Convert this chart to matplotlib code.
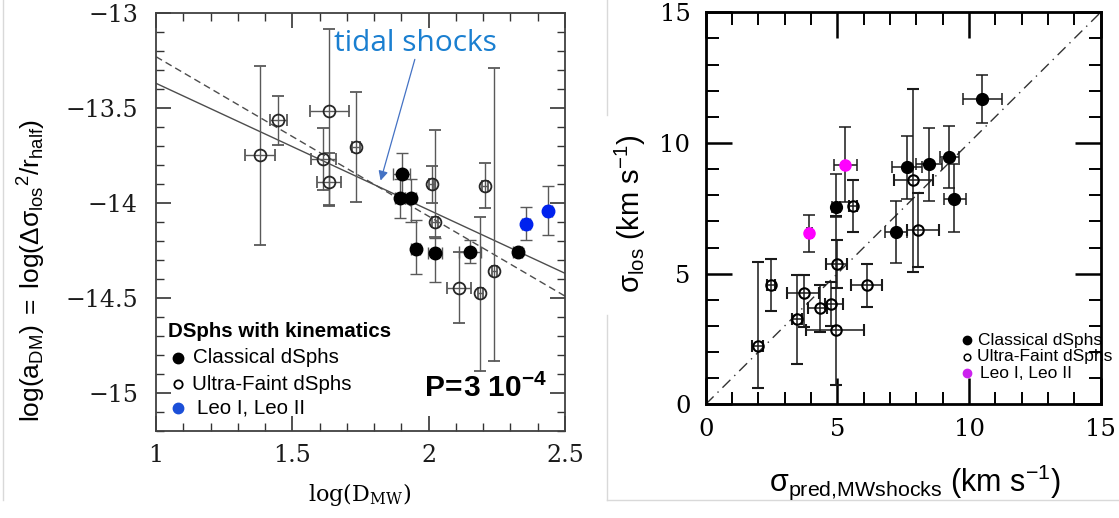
import matplotlib
matplotlib.use("Agg")
import matplotlib.pyplot as plt
from matplotlib.ticker import MultipleLocator
from matplotlib.lines import Line2D

plt.rcParams['mathtext.fontset'] = 'custom'
plt.rcParams['mathtext.rm'] = 'Liberation Sans'
plt.rcParams['mathtext.it'] = 'Liberation Sans:italic'
plt.rcParams['mathtext.bf'] = 'Liberation Sans:bold'

# ---------------- Left panel data: log(D_MW) vs log(a_DM) ----------------
cl_logd = [1.901, 1.895, 1.934, 1.952, 2.023, 2.151, 2.326]
cl_loga = [-13.847, -13.975, -13.975, -14.242, -14.265, -14.256, -14.256]
cl_loga_lo = [0.11, 0.105, 0.125, 0.13, 0.15, 0.06, 0.02]
cl_loga_hi = [0.11, 0.10, 0.10, 0.15, 0.08, 0.06, 0.02]
cl_logd_err = [0.03, 0.02, 0.02, 0.017, 0.026, 0.04, 0.015]

uf_logd = [1.381, 1.449, 1.636, 1.614, 1.636, 1.733, 2.011, 2.023, 2.206, 2.241, 2.112, 2.19]
uf_loga = [-13.747, -13.563, -13.516, -13.77, -13.888, -13.705, -13.9, -14.098, -13.909, -14.36, -14.449, -14.475]
uf_loga_lo = [0.473, 0.132, 0.50, 0.16, 0.12, 0.29, 0.098, 0.08, 0.118, 0.47, 0.18, 0.41]
uf_loga_hi = [0.467, 0.128, 0.43, 0.165, 0.15, 0.288, 0.095, 0.48, 0.12, 1.07, 0.19, 0.40]
uf_logd_err = [0.055, 0.03, 0.073, 0.045, 0.044, 0.015, 0.01, 0.01, 0.01, 0.01, 0.044, 0.01]

leo_logd = [2.357, 2.439]
leo_loga = [-14.11, -14.042]
leo_loga_lo = [0.085, 0.126]
leo_loga_hi = [0.09, 0.132]
leo_logd_err = [0.015, 0.012]

fit_x = [1.0, 2.5]
fit_solid = [-13.37, -14.37]
fit_dashed = [-13.23, -14.49]

# ---------------- Right panel data: sigma_pred vs sigma_los ----------------
cl_spred = [10.49, 9.25, 8.49, 7.66, 9.44, 7.23, 4.94]
cl_spred_lo = [0.73, 0.36, 0.5, 0.57, 0.39, 0.42, 0.15]
cl_spred_hi = [0.75, 0.36, 0.5, 0.57, 0.45, 0.40, 0.15]
cl_slos = [11.68, 9.48, 9.18, 9.07, 7.86, 6.58, 7.56]
cl_slos_lo = [0.90, 1.21, 1.40, 1.21, 1.28, 1.18, 0.38]
cl_slos_hi = [0.92, 1.18, 1.41, 1.20, 1.34, 1.21, 1.25]

uf_spred = [7.89, 8.05, 5.61, 4.97, 4.94, 2.47, 3.73, 4.34, 4.75, 3.46, 1.97, 6.11]
uf_spred_lo = [0.74, 0.42, 0.15, 0.39, 1.13, 0.15, 0.63, 0.44, 0.22, 0.2, 0.2, 0.59]
uf_spred_hi = [0.75, 0.82, 0.15, 0.39, 1.07, 0.15, 0.58, 0.28, 0.48, 0.2, 0.2, 0.60]
uf_slos = [8.58, 6.67, 7.59, 5.37, 2.84, 4.57, 4.25, 3.67, 3.84, 3.25, 2.24, 4.57]
uf_slos_lo = [3.51, 1.40, 1.01, 0.93, 2.10, 1.00, 1.28, 0.91, 0.85, 1.71, 1.63, 0.83]
uf_slos_hi = [3.48, 1.40, 0.99, 0.92, 4.36, 0.99, 0.70, 0.90, 0.85, 1.70, 3.22, 0.79]

leo_spred = [5.30, 3.94]
leo_spred_err = [0.43, 0.10]
leo_slos = [9.16, 6.54]
leo_slos_lo = [1.41, 0.70]
leo_slos_hi = [1.44, 0.70]

one_to_one = [0, 15]

# ---------------- Figure ----------------
fig = plt.figure(figsize=(11.19, 5.18), dpi=100)
W, H = 1119, 518

def ax_rect(x0, y0, x1, y1):
    return [x0 / W, 1 - y1 / H, (x1 - x0) / W, (y1 - y0) / H]

# ----- Left axes -----
axL = fig.add_axes(ax_rect(156, 13, 565, 431))
axL.set_xlim(1, 2.5)
axL.set_ylim(-15.2, -13)
axL.plot(fit_x, fit_solid, color='0.3', lw=1.0, zorder=1)
axL.plot(fit_x, fit_dashed, color='0.3', lw=1.0, ls=(0, (5, 3)), zorder=1)

ekw = dict(ecolor='0.35', elinewidth=1.0, capsize=4, capthick=1.0, ls='none', zorder=3)
axL.errorbar(uf_logd, uf_loga, yerr=[uf_loga_lo, uf_loga_hi], xerr=uf_logd_err,
             fmt='o', ms=8.5, mfc='none', mec='0.15', mew=1.3, **ekw)
axL.errorbar(cl_logd, cl_loga, yerr=[cl_loga_lo, cl_loga_hi], xerr=cl_logd_err,
             fmt='o', ms=9, mfc='black', mec='black', **ekw)
axL.errorbar(leo_logd, leo_loga, yerr=[leo_loga_lo, leo_loga_hi], xerr=leo_logd_err,
             fmt='o', ms=9, mfc='#0022ee', mec='#0022ee', **ekw)

axL.xaxis.set_major_locator(MultipleLocator(0.5))
axL.xaxis.set_minor_locator(MultipleLocator(0.1))
axL.yaxis.set_major_locator(MultipleLocator(0.5))
axL.yaxis.set_minor_locator(MultipleLocator(0.1))
axL.tick_params(which='both', direction='in', top=True, right=True, color='0.2')
axL.tick_params(which='major', length=11, width=1.2, pad=9, labelsize=17)
axL.tick_params(which='minor', length=6, width=1.0)
axL.tick_params(axis='y', which='major', pad=13)
axL.set_xticks([1, 1.5, 2, 2.5])
axL.set_xticklabels(['1', '1.5', '2', '2.5'])
axL.set_yticks([-13, -13.5, -14, -14.5, -15])
axL.set_yticklabels(['\u221213', '\u221213.5', '\u221214', '\u221214.5', '\u221215'])
for lab in axL.get_xticklabels() + axL.get_yticklabels():
    lab.set_family('DejaVu Serif')
    lab.set_color('0.1')
for s in axL.spines.values():
    s.set_linewidth(1.3)
    s.set_color('0.25')

# tidal shocks annotation
axL.annotate('', xy=(1.821, -13.896), xytext=(1.952, -13.23),
             arrowprops=dict(arrowstyle='-|>', color='#4472c4', lw=0.9,
                             mutation_scale=14), zorder=5)
axL.text(1.652, -13.162, 'tidal shocks', color='#1a7fd0', fontsize=21.5,
         family='Open Sans', va='center', ha='left')

# legend (left)
axL.text(0.029, 0.2375, 'DSphs with kinematics', transform=axL.transAxes,
         fontsize=14.8, fontweight='bold', family='Liberation Sans', va='center')
axL.plot([0.054], [0.175], 'o', ms=7.5, color='black', transform=axL.transAxes, clip_on=False)
axL.plot([0.054], [0.112], 'o', ms=6, mfc='none', mec='black', mew=1.3,
         transform=axL.transAxes, clip_on=False)
axL.plot([0.054], [0.055], 'o', ms=7.5, color='#1b4fd8', transform=axL.transAxes, clip_on=False)
axL.text(0.0905, 0.175, 'Classical dSphs', transform=axL.transAxes, fontsize=14.8,
         family='Liberation Sans', va='center')
axL.text(0.087, 0.112, 'Ultra-Faint dSphs', transform=axL.transAxes, fontsize=14.8,
         family='Liberation Sans', va='center')
axL.text(0.0995, 0.055, 'Leo I, Leo II', transform=axL.transAxes, fontsize=14.8,
         family='Liberation Sans', va='center')
axL.text(0.956, 0.103, r'$\mathbf{P\!=\!3\ 10^{-4}}$', transform=axL.transAxes,
         fontsize=21.5, ha='right', va='center')

fig.text(32 / W, 1 - 270 / H,
         r'$\mathrm{log(a_{DM})}\;=\;\mathrm{log(\Delta\sigma_{los}{}^{2}/r_{half})}$',
         rotation=90, ha='center', va='center', fontsize=19)
fig.text(360 / W, 1 - 495 / H, r'log(D$_{\mathrm{MW}}$)', ha='center', va='center',
         fontsize=16, family='DejaVu Serif', math_fontfamily='dejavuserif')

# ----- Right axes -----
axR = fig.add_axes(ax_rect(705.7, 12.3, 1100.7, 404.3))
axR.set_xlim(0, 15)
axR.set_ylim(0, 15)
axR.plot(one_to_one, one_to_one, color='0.2', lw=1.0, ls=(0, (8, 4, 1, 4)), zorder=1)
ekwR = dict(ecolor='0.1', elinewidth=1.1, capsize=4, capthick=1.1, ls='none', zorder=3)
axR.errorbar(uf_spred, uf_slos, yerr=[uf_slos_lo, uf_slos_hi], xerr=[uf_spred_lo, uf_spred_hi],
             fmt='o', ms=7.5, mfc='none', mec='black', mew=1.5, **ekwR)
axR.errorbar(cl_spred, cl_slos, yerr=[cl_slos_lo, cl_slos_hi], xerr=[cl_spred_lo, cl_spred_hi],
             fmt='o', ms=8.5, mfc='black', mec='black', **ekwR)
axR.errorbar(leo_spred, leo_slos, yerr=[leo_slos_lo, leo_slos_hi], xerr=leo_spred_err,
             fmt='o', ms=8, mfc='#ff00ff', mec='#ff00ff', **ekwR)

axR.xaxis.set_major_locator(MultipleLocator(5))
axR.xaxis.set_minor_locator(MultipleLocator(1))
axR.yaxis.set_major_locator(MultipleLocator(5))
axR.yaxis.set_minor_locator(MultipleLocator(1))
axR.tick_params(which='both', direction='in', top=True, right=True, color='black')
axR.tick_params(which='major', length=19, width=1.8, labelsize=17.5)
axR.tick_params(which='minor', length=9, width=1.4)
axR.tick_params(axis='x', which='major', pad=10)
axR.tick_params(axis='y', which='major', pad=11)
for lab in axR.get_xticklabels() + axR.get_yticklabels():
    lab.set_family('DejaVu Serif')
for s in axR.spines.values():
    s.set_linewidth(2.0)

axR.plot([0.661], [0.164], 'o', ms=6, color='black', transform=axR.transAxes, clip_on=False)
axR.plot([0.661], [0.121], 'o', ms=4.8, mfc='none', mec='black', mew=1.1,
         transform=axR.transAxes, clip_on=False)
axR.plot([0.661], [0.079], 'o', ms=6, color='#cc22ee', transform=axR.transAxes, clip_on=False)
axR.text(0.69, 0.164, 'Classical dSphs', transform=axR.transAxes, fontsize=12.5,
         family='Liberation Sans', va='center')
axR.text(0.688, 0.121, 'Ultra-Faint dSphs', transform=axR.transAxes, fontsize=12.5,
         family='Liberation Sans', va='center')
axR.text(0.694, 0.079, 'Leo I, Leo II', transform=axR.transAxes, fontsize=12.5,
         family='Liberation Sans', va='center')

fig.text(630 / W, 1 - 214 / H, r'$\mathrm{\sigma_{los}}$ (km s$^{\mathrm{-1}}$)', rotation=90,
         ha='center', va='center', fontsize=21, family='Liberation Sans')
fig.text(915 / W, 1 - 482 / H,
         r'$\mathrm{\sigma_{pred{,}MWshocks}}$ (km s$^{\mathrm{-1}}$)',
         ha='center', va='center', fontsize=22, family='Liberation Sans')

# faint panel borders from the composite image
fig.add_artist(Line2D([3 / W, 3 / W], [1 - 500 / H, 1], color='0.85', lw=1.0))
fig.add_artist(Line2D([607 / W, 607 / W], [1 - 115 / H, 1], color='0.85', lw=1.0))
fig.add_artist(Line2D([607 / W, 607 / W], [1 - 500 / H, 1 - 315 / H], color='0.85', lw=1.0))
fig.add_artist(Line2D([607 / W, 1], [1 - 500 / H, 1 - 500 / H], color='0.85', lw=1.0))

fig.savefig('out.png', dpi=100)
